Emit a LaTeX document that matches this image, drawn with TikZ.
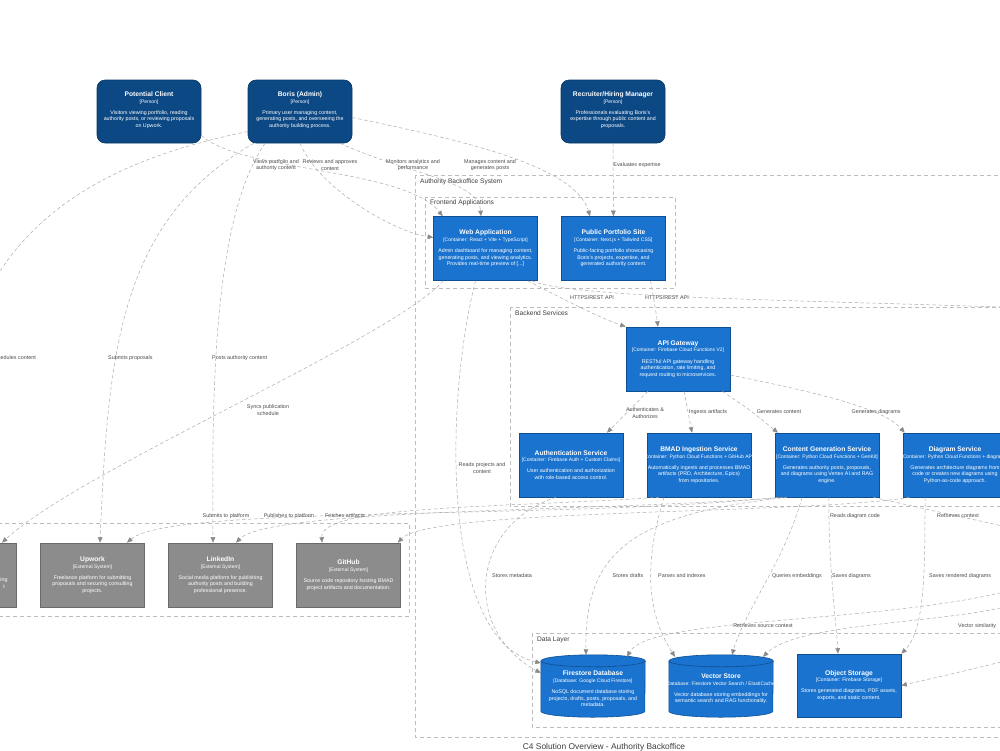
\documentclass[tikz,border=0pt]{standalone}
\usepackage{fontspec}
\setmainfont{Liberation Sans}
\usetikzlibrary{arrows.meta,positioning,calc,backgrounds}
\definecolor{c4person}{HTML}{0B4884}
\definecolor{c4personline}{HTML}{073763}
\definecolor{c4box}{HTML}{1A73CE}
\definecolor{c4boxline}{HTML}{0E4E92}
\definecolor{c4ext}{HTML}{8C8C8C}
\definecolor{c4extline}{HTML}{6A6A6A}
\definecolor{relgray}{HTML}{ABABAB}
\definecolor{arrgray}{HTML}{8A8A8A}
\definecolor{bndgray}{HTML}{BDBDBD}
\definecolor{bndtext}{HTML}{3C3C3C}
\definecolor{labgray}{HTML}{4A4A4A}
\newcommand{\boxttl}[1]{{\fontsize{6.7pt}{6.4pt}\selectfont\bfseries #1}}
\newcommand{\boxtech}[1]{{\fontsize{5pt}{6.4pt}\selectfont #1}}

\begin{document}
\begin{tikzpicture}[
  x=1pt,
  y=-1pt,
  font=\fontsize{5.3pt}{6.6pt}\selectfont,
  person/.style={rectangle, rounded corners=8pt, draw=c4personline, line width=0.6pt, fill=c4person, minimum width=104pt, minimum height=63pt},
  container/.style={rectangle, draw=c4boxline, line width=0.6pt, fill=c4box, minimum width=104pt, minimum height=64pt},
  extsys/.style={container, draw=c4extline, fill=c4ext},
  dbnode/.style={rectangle, minimum width=104pt, minimum height=62pt},
  dbshape/.style={draw=c4boxline, line width=0.6pt, fill=c4box},
  boxtxt/.style={text=white, align=center, inner sep=0pt},
  bound/.style={draw=bndgray, dash pattern=on 4pt off 3pt, line width=0.5pt},
  blab/.style={anchor=west, text=bndtext, font=\fontsize{6.6pt}{7pt}\selectfont, inner sep=0pt},
  rel/.style={draw=relgray, dash pattern=on 3.5pt off 2.5pt, line width=0.5pt, -{Triangle[length=5.5pt, width=4.6pt, color=arrgray]}},
  rlab/.style={text=labgray, align=center, font=\fontsize{5.4pt}{6.3pt}\selectfont, inner sep=0pt}
]
  \useasboundingbox (0,0) rectangle (1000,750);
  \clip (0,0) rectangle (1000,750);

  % boundaries
  \draw[bound] (415,175) rectangle (1030,737);
  \node[blab] (sysl) at (420,182) {Authority Backoffice System};
  \draw[bound] (425,197) rectangle (675,288);
  \node[blab] (frontl) at (430,203) {Frontend Applications};
  \draw[bound] (510,307) rectangle (1030,506);
  \node[blab] (backl) at (515,313) {Backend Services};
  \draw[bound] (-20,523) rectangle (409,616);
  \draw[bound] (532,633) rectangle (1030,727);
  \node[blab] (datal) at (537,640) {Data Layer};

  % people
  \node[person, label={[boxtxt, yshift=1.5pt]center:{\boxttl{Potential Client}\\\boxtech{[Person]}\\[4.5pt]Visitors viewing portfolio, reading\\authority posts, or reviewing proposals\\on Upwork.}}] (pc) at (149,111.5) {};
  \node[person, label={[boxtxt, yshift=1.5pt]center:{\boxttl{Boris (Admin)}\\\boxtech{[Person]}\\[4.5pt]Primary user managing content,\\generating posts, and overseeing the\\authority building process.}}] (admin) at (300,111.5) {};
  \node[person, label={[boxtxt, yshift=1.5pt]center:{\boxttl{Recruiter/Hiring Manager}\\\boxtech{[Person]}\\[4.5pt]Professionals evaluating Boris's\\expertise through public content and\\proposals.}}] (recruiter) at (613,111.5) {};

  % frontend
  \node[container, label={[boxtxt]center:{\boxttl{Web Application}\\\boxtech{[Container: React + Vite + TypeScript]}\\[4.5pt]Admin dashboard for managing content,\\generating posts, and viewing analytics.\\Provides real-time preview of [...]}}] (webapp) at (485.5,248.5) {};
  \node[container, label={[boxtxt]center:{\boxttl{Public Portfolio Site}\\\boxtech{[Container: Next.js + Tailwind CSS]}\\[4.5pt]Public-facing portfolio showcasing\\Boris's projects, expertise, and\\generated authority content.}}] (portfolio) at (613.5,248.5) {};

  % backend
  \node[container, label={[boxtxt]center:{\boxttl{API Gateway}\\\boxtech{[Container: Firebase Cloud Functions V2]}\\[4.5pt]RESTful API gateway handling\\authentication, rate limiting, and\\request routing to microservices.}}] (gateway) at (678,359) {};
  \node[container, label={[boxtxt]center:{\boxttl{Authentication Service}\\\boxtech{[Container: Firebase Auth + Custom Claims]}\\[4.5pt]User authentication and authorization\\with role-based access control.}}] (authsvc) at (571,465) {};
  \node[container, label={[boxtxt]center:{\boxttl{BMAD Ingestion Service}\\\boxtech{[Container: Python Cloud Functions + GitHub API]}\\[4.5pt]Automatically ingests and processes BMAD\\artifacts (PRD, Architecture, Epics)\\from repositories.}}] (bmad) at (699,465) {};
  \node[container, label={[boxtxt]center:{\boxttl{Content Generation Service}\\\boxtech{[Container: Python Cloud Functions + GenKit]}\\[4.5pt]Generates authority posts, proposals,\\and diagrams using Vertex AI and RAG\\engine.}}] (contentgen) at (827,465) {};
  \node[container, label={[boxtxt]center:{\boxttl{Diagram Service}\\\boxtech{[Container: Python Cloud Functions + diagrams]}\\[4.5pt]Generates architecture diagrams from\\code or creates new diagrams using\\Python-as-code approach.}}] (diagramsvc) at (955,465) {};

  % data layer
  \node[dbnode, label={[boxtxt, yshift=-3pt]center:{\boxttl{Firestore Database}\\\boxtech{[Database: Google Cloud Firestore]}\\[4.5pt]NoSQL document database storing\\projects, drafts, posts, proposals, and\\metadata.}}] (firestore) at (593,686) {};
  \node[dbnode, label={[boxtxt, yshift=-3pt]center:{\boxttl{Vector Store}\\\boxtech{[Database: Firestore Vector Search / ElastiCache]}\\[4.5pt]Vector database storing embeddings for\\semantic search and RAG functionality.}}] (vecstore) at (721,686) {};
  \node[container, minimum height=63pt, label={[boxtxt]center:{\boxttl{Object Storage}\\\boxtech{[Container: Firebase Storage]}\\[4.5pt]Stores generated diagrams, PDF assets,\\exports, and static content.}}] (objstore) at (849,685.5) {};
  \begin{scope}[on background layer]
    \foreach \db in {firestore,vecstore}{
      \filldraw[dbshape] ([yshift=-6pt]\db.north west) -- ([yshift=6pt]\db.south west)
        arc[start angle=180, end angle=360, x radius=52pt, y radius=6pt]
        -- ([yshift=-6pt]\db.north east)
        arc[start angle=0, end angle=180, x radius=52pt, y radius=6pt] -- cycle;
      \draw[dbshape, fill=none] ([yshift=-6pt]\db.north west) arc[start angle=180, end angle=360, x radius=52pt, y radius=6pt];
    }
  \end{scope}

  % external systems
  \node[extsys, label={[boxtxt, xshift=39.5pt, yshift=-8pt]center:{ing\\t}}] (sched) at (-35.5,575) {};
  \node[extsys, label={[boxtxt]center:{\boxttl{Upwork}\\\boxtech{[External System]}\\[4.5pt]Freelance platform for submitting\\proposals and securing consulting\\projects.}}] (upwork) at (92.5,575) {};
  \node[extsys, label={[boxtxt]center:{\boxttl{LinkedIn}\\\boxtech{[External System]}\\[4.5pt]Social media platform for publishing\\authority posts and building\\professional presence.}}] (linkedin) at (220.5,575) {};
  \node[extsys, label={[boxtxt]center:{\boxttl{GitHub}\\\boxtech{[External System]}\\[4.5pt]Source code repository hosting BMAD\\project artifacts and documentation.}}] (github) at (348.5,575) {};

  % ends outside the view
  \coordinate (offmon) at (1030,308);
  \coordinate (offctx) at (1030,532);
  \coordinate (offrag) at (1030,585);
  \coordinate (offvec) at (1030,600);
  \coordinate (offobj) at (1030,655);

  % people to frontends
  \draw[rel] ([yshift=8pt]pc.south east) .. controls (240,172) and (405,168) .. ([xshift=9.5pt]webapp.north west);
  \node[rlab] (l1) at (276,165) {Views portfolio and\\authority content};
  \draw[rel] (admin.south) .. controls (320,190) and (395,232) .. ([yshift=11pt]webapp.west);
  \node[rlab] (l2) at (330,165) {Reviews and approves\\content};
  \draw[rel] ([xshift=40pt]admin.south) .. controls (410,175) and (478,180) .. ([xshift=-4.5pt]webapp.north);
  \node[rlab] (l3) at (413,165) {Monitors analytics and\\performance};
  \draw[rel] ([yshift=-6pt]admin.east) .. controls (460,140) and (575,165) .. ([xshift=-23.5pt]portfolio.north);
  \node[rlab] (l4) at (490,165) {Manages content and\\generates posts};
  \draw[rel] (recruiter) -- (portfolio);
  \node[rlab] (l5) at (637,165) {Evaluates expertise};

  % admin to external systems
  \draw[rel] ([yshift=-20pt]admin.west) .. controls (110,160) and (-90,230) .. (sched.north);
  \node[rlab, anchor=east] (l6) at (36,358) {Schedules content};
  \draw[rel] ([xshift=6pt]admin.south west) .. controls (120,220) and (108,350) .. ([xshift=7.5pt]upwork.north);
  \node[rlab, anchor=west] (l7) at (108,358) {Submits proposals};
  \draw[rel] ([xshift=-35pt]admin.south) .. controls (212,220) and (212,400) .. ([xshift=-7.5pt]linkedin.north);
  \node[rlab, anchor=west] (l8) at (212,358) {Posts authority content};

  % frontends onward
  \draw[rel] ([xshift=-10pt]webapp.south east) .. controls (565,300) and (600,318) .. (gateway.north west);
  \node[rlab] (l9) at (592,298) {HTTPS/REST API};
  \draw[rel] ([xshift=37pt]portfolio.south) .. controls (654,300) and (656,312) .. ([xshift=-20pt]gateway.north);
  \node[rlab] (l10) at (667,298) {HTTPS/REST API};
  \draw[rel] ([xshift=-6pt]webapp.south east) .. controls (570,298) and (800,300) .. (offmon);
  \draw[rel] ([xshift=10pt]webapp.south west) .. controls (390,340) and (80,470) .. ([xshift=37.5pt]sched.north);
  \node[rlab] (l11) at (268,410) {Syncs publication\\schedule};
  \draw[rel] ([xshift=-10pt]webapp.south) .. controls (445,400) and (440,640) .. ([yshift=23pt]firestore.west);
  \node[rlab] (l12) at (482,468) {Reads projects and\\content};

  % gateway to services
  \draw[rel] ([xshift=-30pt]gateway.south) -- ([xshift=36pt]authsvc.north);
  \node[rlab] (l13) at (645,413) {Authenticates \&\\Authorizes};
  \draw[rel] ([xshift=6pt]gateway.south) -- ([xshift=-7pt]bmad.north);
  \node[rlab, anchor=west] (l14) at (689,412) {Ingests artifacts};
  \draw[rel] ([xshift=-8pt]gateway.south east) .. controls (750,410) .. ([xshift=-49pt]contentgen.north);
  \node[rlab] (l15) at (779,412) {Generates content};
  \draw[rel] ([yshift=-16pt]gateway.east) .. controls (830,395) and (885,410) .. ([xshift=2pt]diagramsvc.north west);
  \node[rlab] (l16) at (876,412) {Generates diagrams};

  % services to external systems
  \draw[rel] ([xshift=-48pt]contentgen.south) .. controls (560,520) and (170,505) .. ([xshift=34.5pt]upwork.north);
  \node[rlab] (l17) at (226,516) {Submits to platform};
  \draw[rel] ([xshift=-44pt]contentgen.south) .. controls (600,512) and (270,508) .. ([xshift=15.5pt]linkedin.north);
  \node[rlab] (l18) at (289,516) {Publishes to platform};
  \draw[rel] ([xshift=-40pt]bmad.south) .. controls (500,508) and (320,505) .. ([xshift=-26.5pt]github.north);
  \node[rlab] (l19) at (345,516) {Fetches artifacts};
  \draw[rel] ([xshift=7pt]diagramsvc.south west) .. controls (800,515) and (430,508) .. ([xshift=-3pt]github.north east);
  \node[rlab] (l20) at (855,516) {Reads diagram code};
  \draw[rel] ([xshift=-6pt]contentgen.south east) .. controls (930,510) .. (offctx);
  \node[rlab] (l21) at (958,516) {Retrieves context};

  % services to data layer
  \draw[rel] ([xshift=-15pt]authsvc.south) .. controls (470,525) and (462,630) .. ([yshift=13pt]firestore.west);
  \node[rlab] (l22) at (512,576) {Stores metadata};
  \draw[rel] ([xshift=-40pt]contentgen.south) .. controls (620,515) and (585,560) .. ([xshift=-7pt]firestore.north);
  \node[rlab] (l23) at (628,576) {Stores drafts};
  \draw[rel] ([xshift=-35pt]bmad.south) .. controls (645,560) and (645,610) .. ([xshift=-46pt, yshift=-2pt]vecstore.north);
  \node[rlab, anchor=west] (l24) at (658,576) {Parses and indexes};
  \draw[rel] ([xshift=-25pt]contentgen.south) .. controls (785,560) and (745,610) .. ([xshift=11pt]vecstore.north);
  \node[rlab] (l25) at (797,576) {Queries embeddings};
  \draw[rel] ([xshift=2pt]contentgen.south) .. controls (828,560) and (836,620) .. ([xshift=-11pt]objstore.north);
  \node[rlab, anchor=west] (l26) at (832,576) {Saves diagrams};
  \draw[rel] ([xshift=-30pt]diagramsvc.south) .. controls (925,570) and (925,630) .. (objstore.north east);
  \node[rlab, anchor=west] (l27) at (929,576) {Saves rendered diagrams};
  \draw[rel] (offrag) .. controls (900,625) and (650,615) .. ([xshift=34pt, yshift=-2pt]firestore.north);
  \node[rlab] (l28) at (763,626) {Retrieves source context};
  \draw[rel] (offvec) .. controls (960,625) and (800,620) .. ([xshift=42pt, yshift=-2pt]vecstore.north);
  \node[rlab, anchor=west] (l29) at (958,626) {Vector similarity};
  \draw[rel] (offobj) .. controls (960,672) .. (objstore.east);

  \node[text=bndtext, font=\fontsize{8.4pt}{9pt}\selectfont] (title) at (604,747) {C4 Solution Overview - Authority Backoffice};
\end{tikzpicture}
\end{document}
